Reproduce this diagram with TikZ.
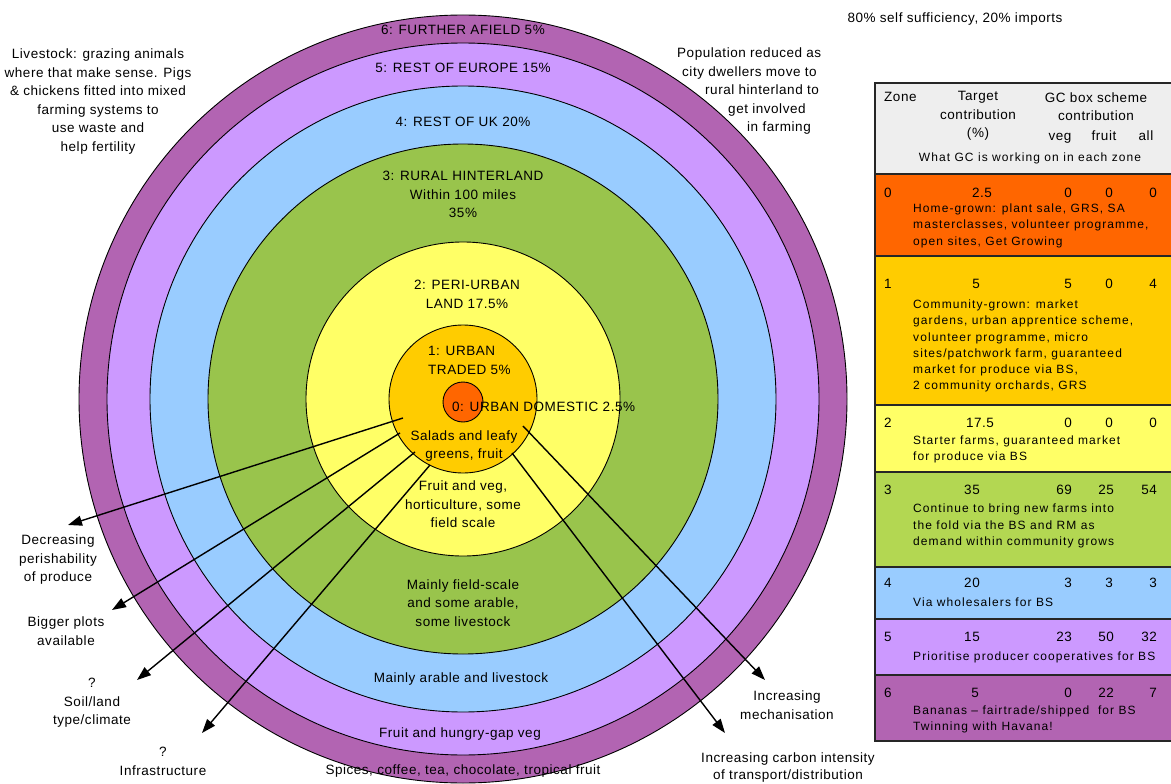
\documentclass[tikz,border=0pt]{standalone}
\usepackage{fontspec}
\setmainfont[LetterSpace=4]{Liberation Sans}
\newfontfamily\tabfont[LetterSpace=9]{Liberation Sans}
\usetikzlibrary{arrows.meta}
\definecolor{zsix}{HTML}{B264B2}
\definecolor{zfive}{HTML}{CC99FF}
\definecolor{zfour}{HTML}{99CCFF}
\definecolor{zthree}{HTML}{99C44C}
\definecolor{zthreet}{HTML}{B3D752}
\definecolor{ztwo}{HTML}{FFFF66}
\definecolor{zone}{HTML}{FFCC00}
\definecolor{zzero}{HTML}{FF6600}
\definecolor{hdr}{HTML}{EEEEEE}
\begin{document}
\begin{tikzpicture}[x=1pt,y=-1pt,
  txt/.style={font=\fontsize{13.5}{18.5}\selectfont, align=center, inner sep=0pt},
  tb/.style={font=\tabfont\fontsize{12}{16.2}\selectfont, align=left, inner sep=0pt, anchor=west},
  ring/.style={draw=black, line width=0.9pt},
  arr/.style={draw=black, line width=1.4pt, -{Triangle[length=14pt,width=10pt]}},
  row/.style={draw=black!85, line width=1.3pt}]
\fill[white] (0,0) rectangle (1171,784);
\useasboundingbox (0,0) rectangle (1171,784);
% rings
\coordinate (c) at (463,399);
\coordinate (cr) at (463,402);
\filldraw[ring, fill=zsix] (c) circle [radius=384pt];
\filldraw[ring, fill=zfive] (c) circle [radius=356pt];
\filldraw[ring, fill=zfour] (c) circle [radius=313pt];
\filldraw[ring, fill=zthree] (c) circle [radius=255pt];
\filldraw[ring, fill=ztwo] (c) circle [radius=157pt];
\filldraw[ring, fill=zone] (c) circle [radius=74pt];
\filldraw[ring, fill=zzero] (cr) circle [radius=20pt];
% arrows
\coordinate (a1s) at (403,418); \coordinate (a1e) at (68,525);
\coordinate (a2s) at (400,433); \coordinate (a2e) at (112,610);
\coordinate (a3s) at (415,452); \coordinate (a3e) at (137,680);
\coordinate (a4s) at (430,465); \coordinate (a4e) at (202,733);
\coordinate (a5s) at (512,453); \coordinate (a5e) at (725,733);
\coordinate (a6s) at (523,426); \coordinate (a6e) at (765,680);
\draw[arr] (a1s) -- (a1e);
\draw[arr] (a2s) -- (a2e);
\draw[arr] (a3s) -- (a3e);
\draw[arr] (a4s) -- (a4e);
\draw[arr] (a5s) -- (a5e);
\draw[arr] (a6s) -- (a6e);
% ring labels
\node[txt] (t6) at (463,30) {6: FURTHER AFIELD 5\%};
\node[txt] (t5) at (463,68) {5: REST OF EUROPE 15\%};
\node[txt] (t4) at (463,122) {4: REST OF UK 20\%};
\node[txt] (t3) at (463,194.5) {3: RURAL HINTERLAND\\Within 100 miles\\35\%};
\node[txt] (t2) at (467,294.5) {2: PERI-URBAN\\LAND 17.5\%};
\node[txt, align=left, anchor=west] (t1) at (428,360.5) {1: URBAN\\TRADED 5\%};
\node[txt, anchor=west] (t0) at (452,407) {0: URBAN DOMESTIC 2.5\%};
\node[txt] (s1) at (464,446) {Salads and leafy\\greens, fruit};
\node[txt] (s2) at (463,504.5) {Fruit and veg,\\horticulture, some\\field scale};
\node[txt] (s3) at (463,603) {Mainly field-scale\\and some arable,\\some livestock};
\node[txt] (s4) at (461,679) {Mainly arable and livestock};
\node[txt] (s5) at (460,734) {Fruit and hungry-gap veg};
\node[txt] (s6) at (463,771) {Spices, coffee, tea, chocolate, tropical fruit};
% side texts
\node[txt] (live) at (98,101.5) {Livestock: grazing animals\\where that make sense. Pigs\\\& chickens fitted into mixed\\farming systems to\\use waste and\\help fertility};
\node[txt, align=left, anchor=west] (pop) at (677,91.5) {Population reduced as\\\hspace*{5pt}city dwellers move to\\\hspace*{28pt}rural hinterland to\\\hspace*{51pt}get involved\\\hspace*{70pt}in farming};
\node[txt] (self) at (955,19) {80\% self sufficiency, 20\% imports};
\node[txt] (dec) at (58,560) {Decreasing\\perishability\\of produce};
\node[txt] (big) at (66,631) {Bigger plots\\available};
\node[txt] (soil) at (92,703) {?\\Soil/land\\type/climate};
\node[txt] (infra) at (163,761.5) {?\\Infrastructure};
\node[txt] (mech) at (787,705) {Increasing\\mechanisation};
\node[txt, font=\fontsize{13.5}{17}\selectfont] (carb) at (788,768) {Increasing carbon intensity\\of transport/distribution};
% table
\filldraw[row, fill=hdr] (875,83) rectangle (1172,174);
\filldraw[row, fill=zzero] (875,174) rectangle (1172,256);
\filldraw[row, fill=zone] (875,256) rectangle (1172,405);
\filldraw[row, fill=ztwo] (875,405) rectangle (1172,472);
\filldraw[row, fill=zthreet] (875,472) rectangle (1172,567);
\filldraw[row, fill=zfour] (875,567) rectangle (1172,619);
\filldraw[row, fill=zfive] (875,619) rectangle (1172,675);
\filldraw[row, fill=zsix] (875,675) rectangle (1172,741);
% header
\node[txt, anchor=west] (hz) at (884,97) {Zone};
\node[txt] (ht) at (978,116) {Target\\contribution\\(\%)};
\node[txt] (hg) at (1096,106.5) {GC box scheme\\contribution};
\node[txt, anchor=base] (hv) at (1060,140) {veg};
\node[txt, anchor=base] (hf) at (1104,140) {fruit};
\node[txt, anchor=base] (ha) at (1146,140) {all};
\node[txt, font=\tabfont\fontsize{12}{16}\selectfont] (hw) at (1030,158) {What GC is working on in each zone};
% numbers
\tikzset{rn/.style={txt, anchor=east}}
\node[txt, anchor=west] (z0) at (884,193) {0};
\node[txt] (p0) at (982,193) {2.5};
\node[rn] (v0) at (1072,193) {0};
\node[rn] (f0) at (1113,193) {0};
\node[rn] (l0) at (1157,193) {0};
\node[tb] (d0) at (913,225.7) {Home-grown: plant sale, GRS, SA\\masterclasses, volunteer programme,\\open sites, Get Growing};
\node[txt, anchor=west] (z1) at (884,284) {1};
\node[txt] (p1) at (976,284) {5};
\node[rn] (v1) at (1072,284) {5};
\node[rn] (f1) at (1113,284) {0};
\node[rn] (l1) at (1157,284) {4};
\node[tb] (d1) at (913,346) {Community-grown: market\\gardens, urban apprentice scheme,\\volunteer programme, micro\\sites/patchwork farm, guaranteed\\market for produce via BS,\\2 community orchards, GRS};
\node[txt, anchor=west] (z2) at (884,423) {2};
\node[txt] (p2) at (980,423) {17.5};
\node[rn] (v2) at (1072,423) {0};
\node[rn] (f2) at (1113,423) {0};
\node[rn] (l2) at (1157,423) {0};
\node[tb] (d2) at (913,449.5) {Starter farms, guaranteed market\\for produce via BS};
\node[txt, anchor=west] (z3) at (884,490) {3};
\node[txt] (p3) at (972,490) {35};
\node[rn] (v3) at (1072,490) {69};
\node[rn] (f3) at (1114,490) {25};
\node[rn] (l3) at (1157,490) {54};
\node[tb] (d3) at (913,526) {Continue to bring new farms into\\the fold via the BS and RM as\\demand within community grows};
\node[txt, anchor=west] (z4) at (884,583) {4};
\node[txt] (p4) at (972,583) {20};
\node[rn] (v4) at (1072,583) {3};
\node[rn] (f4) at (1113,583) {3};
\node[rn] (l4) at (1157,583) {3};
\node[tb] (d4) at (913,602) {Via wholesalers for BS};
\node[txt, anchor=west] (z5) at (884,637) {5};
\node[txt] (p5) at (972,637) {15};
\node[rn] (v5) at (1072,637) {23};
\node[rn] (f5) at (1114,637) {50};
\node[rn] (l5) at (1157,637) {32};
\node[tb] (d5) at (913,657) {Prioritise producer cooperatives for BS};
\node[txt, anchor=west] (z6) at (884,693) {6};
\node[txt] (p6) at (975,693) {5};
\node[rn] (v6) at (1072,693) {0};
\node[rn] (f6) at (1114,693) {22};
\node[rn] (l6) at (1157,693) {7};
\node[tb] (d6) at (913,719.5) {Bananas – fairtrade/shipped\ \ for BS\\Twinning with Havana!};
\end{tikzpicture}
\end{document}
